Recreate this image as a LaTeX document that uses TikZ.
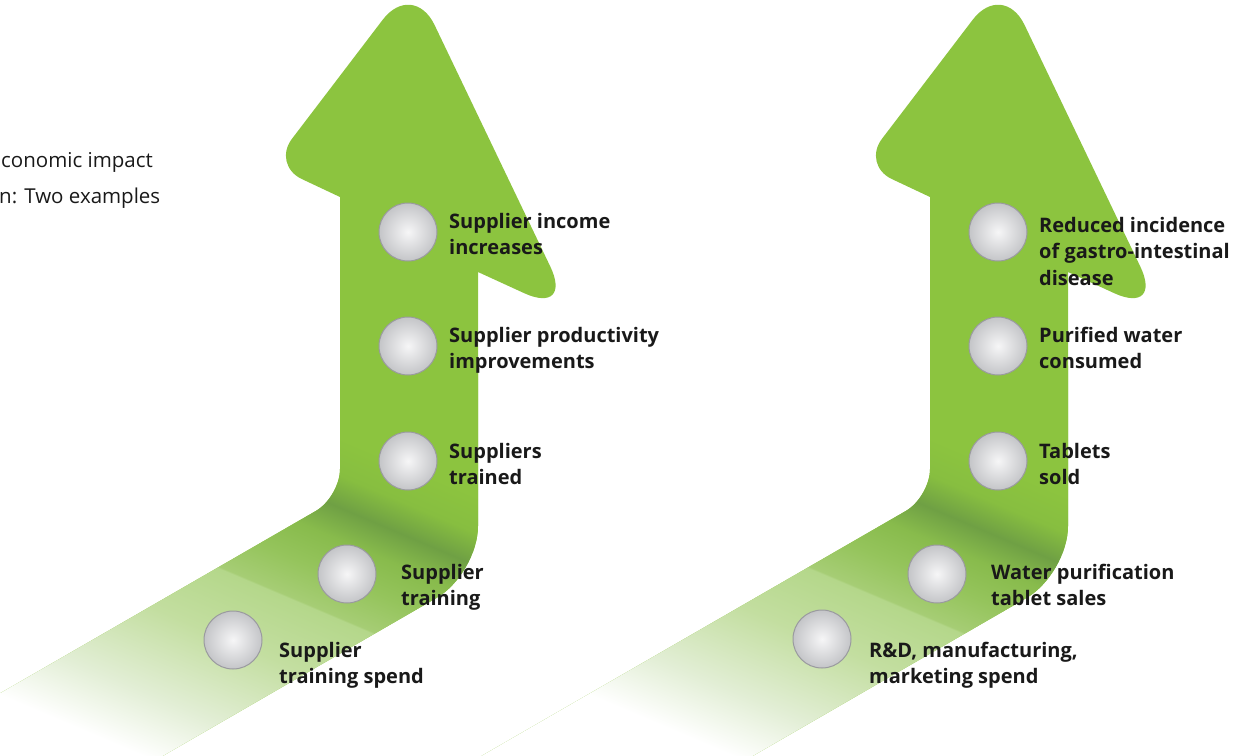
\documentclass[tikz,border=0pt]{standalone}
\usepackage{fontspec}
\setmainfont{Open Sans}
\usetikzlibrary{calc}
\definecolor{agreen}{HTML}{8CC43F}
\definecolor{ga}{HTML}{E2EED5}
\definecolor{gb}{HTML}{C3DEA0}
\definecolor{gc}{HTML}{B4D78A}
\definecolor{gd}{HTML}{A6CD75}
\definecolor{ge}{HTML}{95C45C}
\definecolor{gf}{HTML}{88BB4C}
\definecolor{gg}{HTML}{6FA044}
\definecolor{gh}{HTML}{87BE40}
\definecolor{ballin}{HTML}{F6F6F7}
\definecolor{ballout}{HTML}{C4C5C8}
\definecolor{ballrim}{HTML}{9A9A9F}
\pgfdeclareverticalshading{bandfade}{100bp}{color(0bp)=(white); color(37.3bp)=(white); color(41.9bp)=(ga); color(48.1bp)=(gb); color(52.85bp)=(gc); color(53.0bp)=(gd); color(55.8bp)=(ge); color(58.5bp)=(gf); color(60.8bp)=(gg); color(63.1bp)=(gh); color(65.8bp)=(agreen); color(100bp)=(agreen)}
\newcommand\arrowoutline[1]{(#1+340,197)
  [rounded corners=33] -- (#1+272,165)
  [rounded corners=50] -- (#1+413,-20)
  [rounded corners=55] -- (#1+574,316)
  [sharp corners] -- (#1+478,272)
  [rounded corners=48] -- (#1+478,574)
  [sharp corners] -- (#1-59,884)
  -- (#1-197,807)
  [rounded corners=28] -- (#1+340,497)
  [sharp corners] -- cycle}
\tikzset{
  ball/.style={circle, minimum size=58pt, inner sep=0pt, draw=ballrim, line width=1pt, inner color=ballin, outer color=ballout},
  lbl/.style={anchor=base west, align=left, inner sep=0pt, font=\bfseries\fontsize{20}{26.5}\selectfont, text=black!90},
  titletext/.style={anchor=base west, inner sep=0pt, font=\fontsize{20.5}{24}\selectfont, text=black!90}
}
\begin{document}
\begin{tikzpicture}[x=1pt,y=-1pt]
\useasboundingbox (0,0) rectangle (1234,755);
\foreach \dx in {0,590} {
  \fill[agreen] \arrowoutline{\dx};
  \begin{scope}
    \clip \arrowoutline{\dx};
    \shade[shading=bandfade, transform canvas={rotate around={-23:(\dx+400,560)}}] (\dx-300,1000.6) rectangle (\dx+1100,350.6);
  \end{scope}
}
\node[titletext] (t1) at (1,167) {conomic impact};
\node[titletext] (t2) at (-1,203) {n: Two examples};
% left arrow
\node[ball] (a1) at (408,232) {};
\node[ball] (a2) at (408,346) {};
\node[ball] (a3) at (408,461) {};
\node[ball] (a4) at (347,574) {};
\node[ball] (a5) at (233,640) {};
\node[lbl] (la1) at (449,254.5) {Supplier income\\increases};
\node[lbl] (la2) at (449,368.5) {Supplier productivity\\improvements};
\node[lbl] (la3) at (449,484.5) {Suppliers\\trained};
\node[lbl] (la4) at (401,605.5) {Supplier\\training};
\node[lbl] (la5) at (279,683.5) {Supplier\\training spend};
% right arrow
\node[ball] (b1) at (998,232) {};
\node[ball] (b2) at (998,346) {};
\node[ball] (b3) at (998,461) {};
\node[ball] (b4) at (937,574) {};
\node[ball] (b5) at (822,639) {};
\node[lbl] (lb1) at (1039,285) {Reduced incidence\\of gastro-intestinal\\disease};
\node[lbl] (lb2) at (1039,368.5) {Purified water\\consumed};
\node[lbl] (lb3) at (1039,484.5) {Tablets\\sold};
\node[lbl] (lb4) at (991,605.5) {Water purification\\tablet sales};
\node[lbl] (lb5) at (869,683.5) {R\&D, manufacturing,\\marketing spend};
\end{tikzpicture}
\end{document}
